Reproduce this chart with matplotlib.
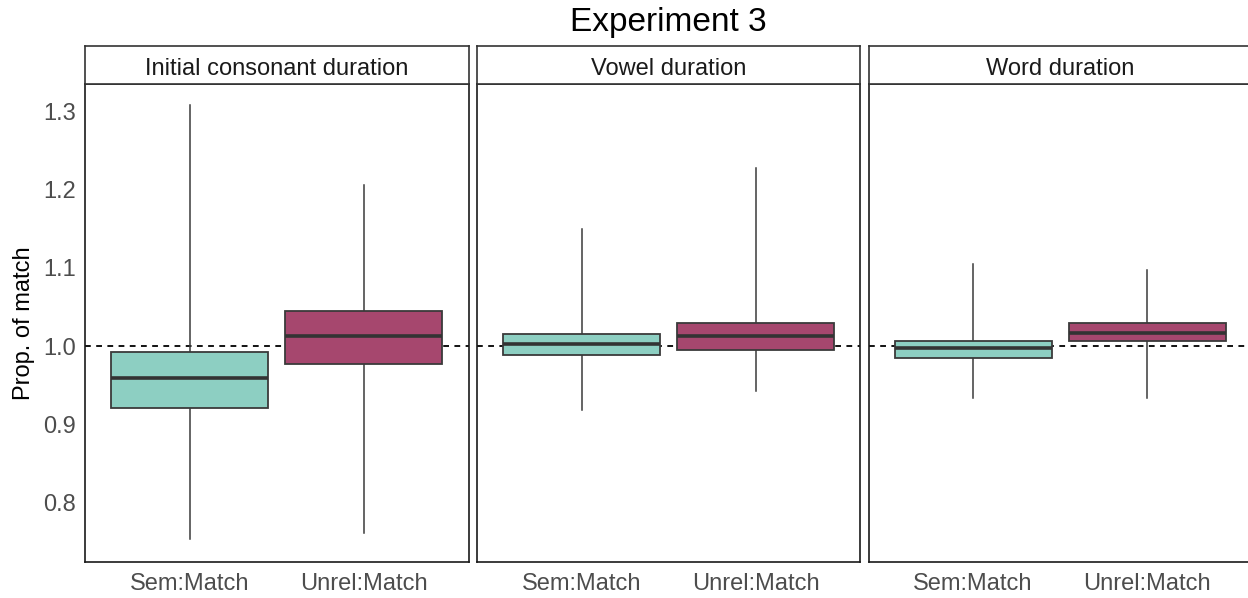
import matplotlib
matplotlib.use("Agg")
import matplotlib.pyplot as plt

plt.rcParams['font.family'] = ['Liberation Sans', 'DejaVu Sans']

panels = ["Initial consonant duration", "Vowel duration", "Word duration"]
conditions = ["Sem:Match", "Unrel:Match"]
colors = ["#8DCFC2", "#A6476E"]

# stats per panel: [Sem, Unrel] -> (whislo, q1, med, q3, whishi)
whislo = [[0.753, 0.761], [0.918, 0.942], [0.934, 0.934]]
q1 =     [[0.921, 0.977], [0.989, 0.995], [0.985, 1.006]]
med =    [[0.959, 1.013], [1.003, 1.013], [0.997, 1.017]]
q3 =     [[0.992, 1.045], [1.016, 1.029], [1.006, 1.029]]
whishi = [[1.308, 1.206], [1.150, 1.228], [1.105, 1.097]]

yticks = [0.8, 0.9, 1.0, 1.1, 1.2, 1.3]
ylim = (0.724, 1.335)

W, H = 1248, 598
fig = plt.figure(figsize=(W / 100, H / 100), dpi=100)

lefts = [85, 477, 868.5]
pw = 383.5
plot_top, plot_bot = 84, 562
strip_top = 46

gray_txt = "#4D4D4D"
for i, name in enumerate(panels):
    ax = fig.add_axes([lefts[i] / W, (H - plot_bot) / H, pw / W, (plot_bot - plot_top) / H])
    stats = []
    for j, c in enumerate(conditions):
        stats.append(dict(whislo=whislo[i][j], q1=q1[i][j], med=med[i][j],
                          q3=q3[i][j], whishi=whishi[i][j], fliers=[], label=c))
    ax.axhline(1.0, color="black", linestyle=(0, (3.2, 3.0)), linewidth=1.3, zorder=1)
    bp = ax.bxp(stats, positions=[1, 2], widths=0.9, showcaps=False, showfliers=False,
                patch_artist=True,
                boxprops=dict(edgecolor="#3A3A3A", linewidth=1.3, zorder=3),
                whiskerprops=dict(color="#3A3A3A", linewidth=1.1, zorder=2),
                medianprops=dict(color="#333333", linewidth=2.6, zorder=4))
    for patch, col in zip(bp['boxes'], colors):
        patch.set_facecolor(col)
    ax.set_xlim(0.4, 2.6)
    ax.set_ylim(*ylim)
    ax.set_xticks([1, 2])
    ax.set_xticklabels(conditions, fontsize=17, color=gray_txt)
    ax.tick_params(axis='both', length=0)
    ax.tick_params(axis='x', pad=8)
    ax.tick_params(axis='y', pad=6.5)
    if i == 0:
        ax.set_yticks(yticks)
        ax.set_yticklabels([f"{v:.1f}" for v in yticks], fontsize=17, color=gray_txt)
        ax.set_ylabel("Prop. of match", fontsize=17, color="black", labelpad=6)
    else:
        ax.set_yticks(yticks)
        ax.set_yticklabels([])
    for s in ax.spines.values():
        s.set_color("#1A1A1A")
        s.set_linewidth(1.2)

    sax = fig.add_axes([lefts[i] / W, (H - plot_top) / H, pw / W, (plot_top - strip_top) / H])
    sax.set_xticks([])
    sax.set_yticks([])
    for s in sax.spines.values():
        s.set_color("#333333")
        s.set_linewidth(1.2)
    sax.text(0.5, 0.40, name, ha='center', va='center', fontsize=17, color="#1A1A1A",
             transform=sax.transAxes)

fig.text(668 / W, 1 - 23 / H, "Experiment 3", ha='center', va='center', fontsize=24, color="black")

fig.savefig("out.png", dpi=100)
